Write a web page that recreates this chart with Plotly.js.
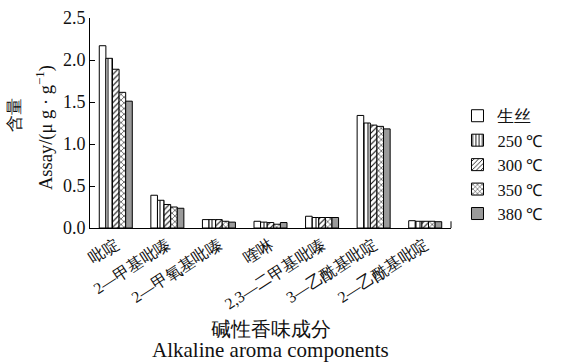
<!DOCTYPE html>
<html>
<head>
<meta charset="utf-8">
<script src="https://cdn.plot.ly/plotly-3.0.1.min.js"></script>
<style>html,body{margin:0;padding:0;background:#fff}#chart{width:561px;height:362px}</style>
</head>
<body>
<div id="chart"></div>
<script>
const categories = ["吡啶", "2—甲基吡嗪", "2—甲氧基吡嗪", "喹啉", "2,3—二甲基吡嗪", "3—乙酰基吡啶", "2—乙酰基吡啶"];
const seriesNames = ["生丝", "250 ℃", "300 ℃", "350 ℃", "380 ℃"];
const raw = [2.17, 0.39, 0.10, 0.08, 0.14, 1.34, 0.087];
const t250 = [2.02, 0.33, 0.10, 0.07, 0.125, 1.25, 0.08];
const t300 = [1.89, 0.28, 0.10, 0.065, 0.125, 1.225, 0.08];
const t350 = [1.615, 0.25, 0.08, 0.045, 0.125, 1.21, 0.08];
const t380 = [1.51, 0.235, 0.07, 0.065, 0.125, 1.18, 0.075];
const yTicks = [0, 0.5, 1.0, 1.5, 2.0, 2.5];
const yTickText = ["0.0", "0.5", "1.0", "1.5", "2.0", "2.5"];

const values = [raw, t250, t300, t350, t380];
const patterns = [
  {shape: "", bg: "#ffffff"},
  {shape: "|", bg: "#ffffff"},
  {shape: "/", bg: "#ffffff"},
  {shape: "x", bg: "#ffffff"},
  {shape: "", bg: "#9a9a9a"}
];
const font = "'Liberation Serif', 'Times New Roman', serif";

const traces = values.map((v, i) => ({
  type: "bar",
  name: seriesNames[i],
  x: categories,
  y: v,
  marker: {
    color: patterns[i].bg,
    line: {color: "#000", width: 1},
    pattern: patterns[i].shape ? {shape: patterns[i].shape, fgcolor: "#000", bgcolor: "#fff", size: 4, solidity: 0.25} : undefined
  }
}));

const layout = {
  width: 561, height: 362,
  margin: {l: 90, r: 88, t: 18, b: 134},
  paper_bgcolor: "#fff", plot_bgcolor: "#fff",
  font: {family: font, size: 16, color: "#111"},
  barmode: "group",
  bargap: 0.36,
  bargroupgap: 0,
  showlegend: true,
  legend: {x: 1.018, xanchor: "left", y: 0.3, yanchor: "middle", font: {size: 16.5, family: font}, tracegroupgap: 0, itemwidth: 30, bgcolor: "rgba(0,0,0,0)"},
  xaxis: {
    type: "category",
    showline: true, linecolor: "#000", linewidth: 1,
    ticks: "", tickangle: -33,
    tickfont: {size: 16, family: font},
    showgrid: false, zeroline: false
  },
  yaxis: {
    range: [0, 2.5],
    tickvals: yTicks, ticktext: yTickText,
    showline: true, linecolor: "#000", linewidth: 1,
    ticks: "inside", ticklen: 5, tickcolor: "#000",
    tickfont: {size: 18, family: font},
    showgrid: false, zeroline: false
  },
  shapes: [
    {type: "line", xref: "paper", yref: "y", x0: 1, x1: 1, y0: 0, y1: 0.08, line: {color: "#000", width: 1}}
  ],
  annotations: [
    {text: "含量", xref: "paper", yref: "paper", x: 0, y: 0.5, xshift: -76, yshift: 8, textangle: -90, xanchor: "center", yanchor: "middle", showarrow: false, font: {size: 17, family: font}},
    {text: "Assay/(μ g · g<sup>−1</sup>)", xref: "paper", yref: "paper", x: 0, y: 0.5, xshift: -46, yshift: -5, textangle: -90, xanchor: "center", yanchor: "middle", showarrow: false, font: {size: 18.5, family: font}},
    {text: "碱性香味成分", xref: "paper", yref: "paper", x: 0.5, y: 0, yshift: -101, xanchor: "center", yanchor: "middle", showarrow: false, font: {size: 20, family: font}},
    {text: "Alkaline aroma components", xref: "paper", yref: "paper", x: 0.5, y: 0, yshift: -122, xanchor: "center", yanchor: "middle", showarrow: false, font: {size: 21, family: font}}
  ]
};

Plotly.newPlot("chart", traces, layout, {displayModeBar: false, staticPlot: true});
</script>
</body>
</html>
